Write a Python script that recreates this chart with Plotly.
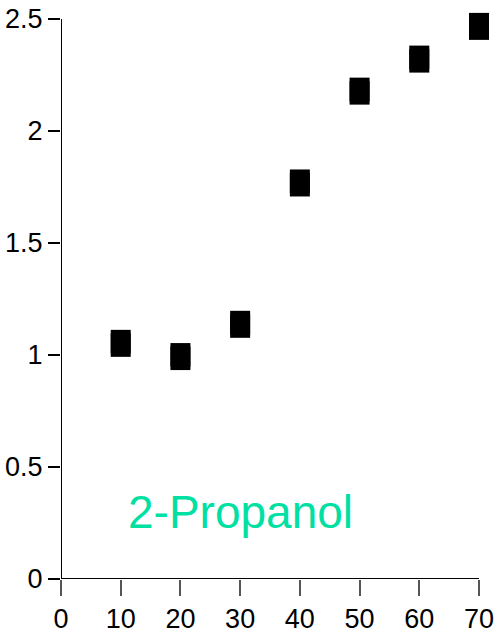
import plotly.graph_objects as go

x_vals = [10, 20, 30, 40, 50, 60, 70]
y_vals = [1.052, 0.993, 1.137, 1.768, 2.178, 2.321, 2.467]
x_ticks = [0, 10, 20, 30, 40, 50, 60, 70]
y_ticks = [0, 0.5, 1, 1.5, 2, 2.5]
y_tick_text = ["0", "0.5", "1", "1.5", "2", "2.5"]
label_text = "2-Propanol"

tick_font = dict(family="Liberation Sans Narrow, Liberation Sans, Arial", size=27, color="black")

# pixel scale of the reference: 418 px for 70 x-units, 560 px for 2.5 y-units
x_px = 418 / 70
y_px = 560 / 2.5
x_max = x_ticks[-1] + 12 / x_px   # room so the last rectangle is not clipped
y_max = y_ticks[-1] + 14 / y_px

fig = go.Figure()
fig.add_trace(go.Scatter(
    x=x_vals, y=y_vals, mode="markers",
    marker=dict(symbol="square", size=20, color="black", line=dict(width=0)),
    error_y=dict(type="constant", value=13.5 / y_px, thickness=20, width=0, color="black"),
    cliponaxis=False, showlegend=False,
))

# axis lines, ending at the last tick
fig.add_shape(type="line", xref="x", yref="y", x0=x_ticks[0], x1=x_ticks[-1], y0=0, y1=0,
              line=dict(color="black", width=2))
fig.add_shape(type="line", xref="x", yref="y", x0=0, x1=0, y0=y_ticks[0], y1=y_ticks[-1],
              line=dict(color="black", width=2))

fig.add_annotation(
    x=30, y=0.30, xref="x", yref="y", text=label_text, showarrow=False,
    font=dict(family="Liberation Sans, Arial", size=46, color="rgb(0,224,163)"),
    xanchor="center", yanchor="middle",
)

plot_w = x_max * x_px
plot_h = y_max * y_px
fig.update_layout(
    width=497, height=638,
    margin=dict(l=61, r=497 - 61 - plot_w, t=638 - 59 - plot_h, b=59),
    paper_bgcolor="white", plot_bgcolor="white",
)
fig.update_xaxes(
    range=[0, x_max], tickvals=x_ticks, ticktext=[str(v) for v in x_ticks],
    showline=False, showgrid=False, zeroline=False, automargin=False,
    ticks="outside", ticklen=16, tickwidth=2, tickcolor="#555555", tickfont=tick_font,
)
fig.update_yaxes(
    range=[0, y_max], tickvals=y_ticks, ticktext=y_tick_text,
    showline=False, showgrid=False, zeroline=False, automargin=False,
    ticks="outside", ticklen=12, tickwidth=2, tickcolor="black", tickfont=tick_font,
)

fig.write_html("out.html")
